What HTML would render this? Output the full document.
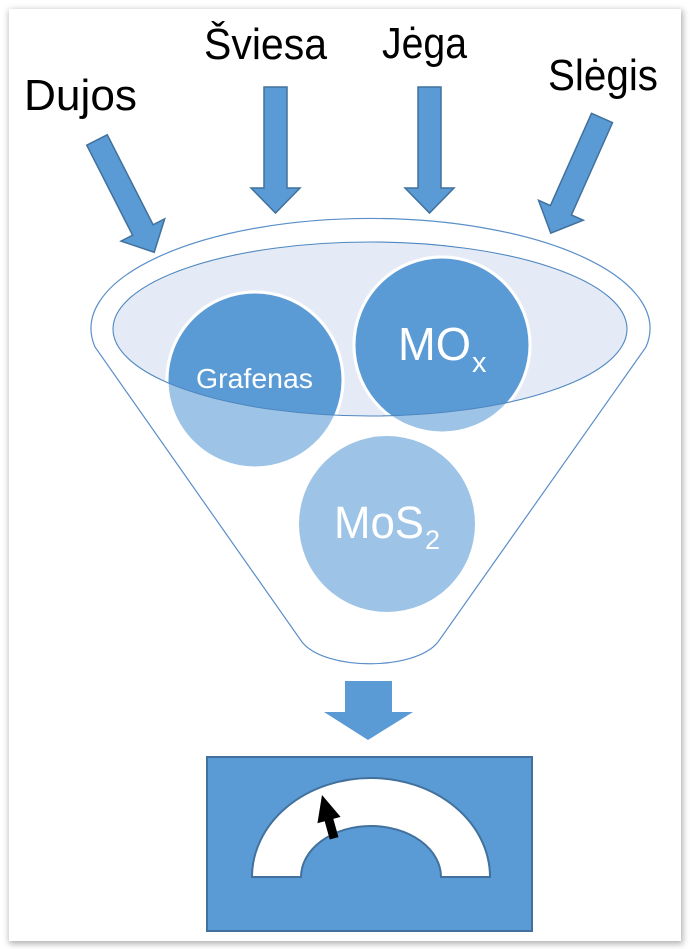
<!DOCTYPE html>
<html>
<head>
<meta charset="utf-8">
<style>
  html, body { margin:0; padding:0; background:#ffffff; }
  body { width:690px; height:949px; position:relative; overflow:hidden; }
  .frame { position:absolute; left:9px; top:9px; width:672px; height:932px; background:#ffffff;
           box-shadow: 1px 2px 6px 1px rgba(0,0,0,0.30); }
  svg { position:absolute; left:0; top:0; }
  text { font-family:"Liberation Sans", Arial, sans-serif; }
</style>
</head>
<body>
<div class="frame"></div>
<svg width="690" height="949" viewBox="0 0 690 949" xmlns="http://www.w3.org/2000/svg">
  <defs>
    <clipPath id="ellClip">
      <ellipse cx="370" cy="329" rx="257" ry="87"/>
    </clipPath>
    <path id="arr" d="M-11.5,0 L11.5,0 L11.5,101 L24.5,101 L0,126 L-24.5,101 L-11.5,101 Z"/>
  </defs>

  <!-- Top labels -->
  <text x="24" y="110" font-size="44" fill="#000" textLength="113" lengthAdjust="spacingAndGlyphs">Dujos</text>
  <text x="204" y="59" font-size="44" fill="#000" textLength="123" lengthAdjust="spacingAndGlyphs">Šviesa</text>
  <text x="382" y="58" font-size="44" fill="#000" textLength="85" lengthAdjust="spacingAndGlyphs">Jėga</text>
  <text x="548" y="90" font-size="44" fill="#000" textLength="110" lengthAdjust="spacingAndGlyphs">Slėgis</text>

  <!-- Input arrows -->
  <g fill="#5b9bd5" stroke="#41719c" stroke-width="1.5" stroke-linejoin="miter">
    <use href="#arr" transform="translate(275.5,87)"/>
    <use href="#arr" transform="translate(429.5,87)"/>
    <use href="#arr" transform="translate(97,140) rotate(-27)"/>
    <use href="#arr" transform="translate(602,118) rotate(24)"/>
  </g>

  <!-- Funnel outline -->
  <path d="M95,347 A279.5,110 0 1 1 646,347 L438,642 C415,671 325,671 302,642 Z"
        fill="#ffffff" stroke="#5a8fc8" stroke-width="1.2"/>

  <!-- Inner ellipse fill -->
  <ellipse cx="370" cy="329" rx="257" ry="87" fill="#e5ebf6" stroke="none"/>

  <!-- Circles, light base -->
  <circle cx="255" cy="380" r="88" fill="#9dc3e6" stroke="#ffffff" stroke-width="3"/>
  <circle cx="442" cy="345" r="88" fill="#9dc3e6" stroke="#ffffff" stroke-width="3"/>
  <circle cx="387" cy="524" r="88" fill="#9dc3e6"/>

  <!-- Dark parts inside ellipse -->
  <g clip-path="url(#ellClip)">
    <circle cx="255" cy="380" r="88" fill="#5b9bd5" stroke="#ffffff" stroke-width="3"/>
    <circle cx="442" cy="345" r="88" fill="#5b9bd5" stroke="#ffffff" stroke-width="3"/>
  </g>

  <!-- Inner ellipse stroke -->
  <ellipse cx="370" cy="329" rx="257" ry="87" fill="none" stroke="#4f87c0" stroke-width="1.1"/>

  <!-- Circle labels -->
  <text x="196" y="388" font-size="28" fill="#ffffff" textLength="117" lengthAdjust="spacingAndGlyphs">Grafenas</text>
  <text x="398" y="360" font-size="46" fill="#ffffff" textLength="73" lengthAdjust="spacingAndGlyphs">MO</text>
  <text x="472" y="372" font-size="29" fill="#ffffff">x</text>
  <text x="334" y="538" font-size="45" fill="#ffffff" textLength="90" lengthAdjust="spacingAndGlyphs">MoS</text>
  <text x="425" y="549" font-size="27" fill="#ffffff">2</text>

  <!-- Output arrow -->
  <path d="M345,681 L392,681 L392,712 L413,712 L368,740 L324,712 L345,712 Z" fill="#5b9bd5"/>

  <!-- Output box -->
  <rect x="207" y="757" width="325" height="174" fill="#5b9bd5" stroke="#41719c" stroke-width="2"/>

  <!-- Arch -->
  <path d="M252,877 A119,99 0 0 1 490,877 L441,877 A70,51 0 0 0 301,877 Z"
        fill="#ffffff" stroke="#41719c" stroke-width="2" stroke-linejoin="miter"/>

  <!-- Black arrow -->
  <path d="M0,0 L12,26 L4.5,26 L4.5,45 L-4.5,45 L-4.5,26 L-12,26 Z"
        transform="translate(322,795) rotate(-15.6)" fill="#000000"/>
</svg>
</body>
</html>
